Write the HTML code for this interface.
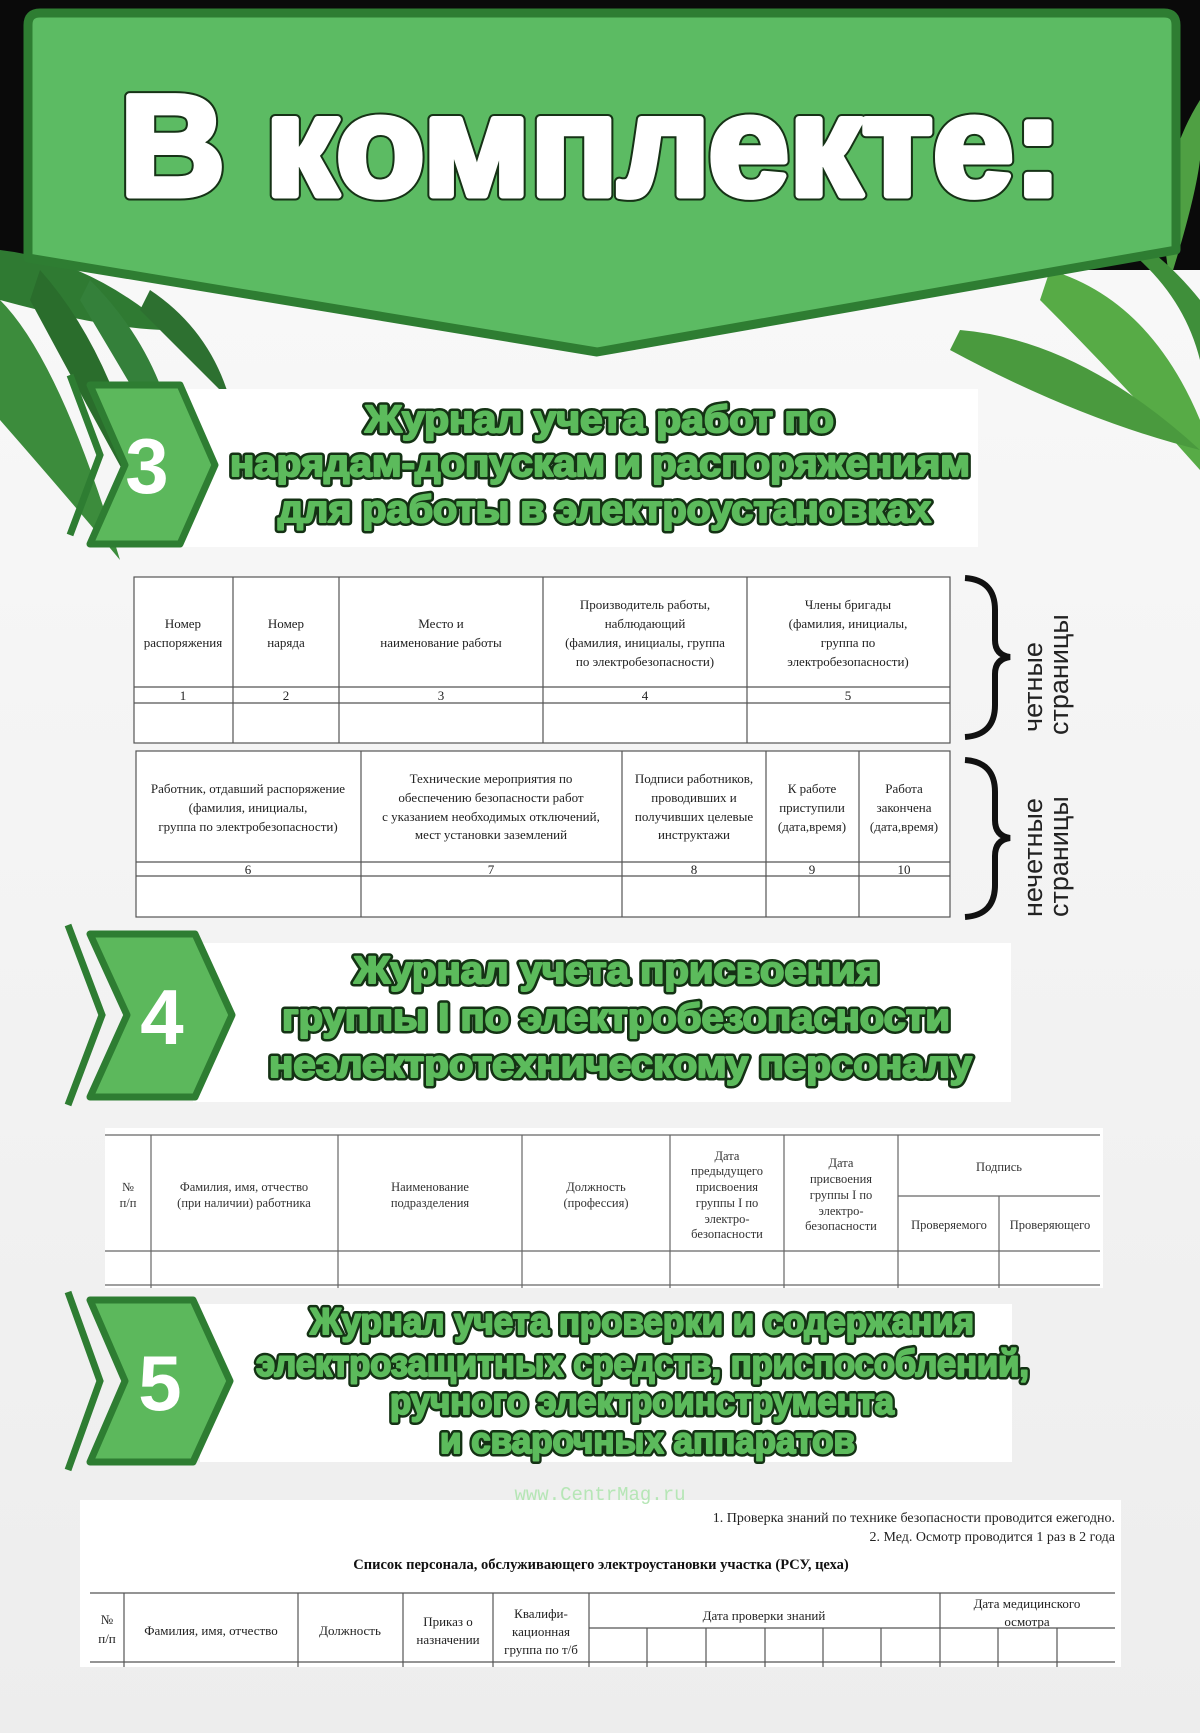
<!DOCTYPE html>
<html><head><meta charset="utf-8"><style>
html,body{margin:0;padding:0;background:#f3f3f3;}
svg{display:block}
.ho{font-family:"Liberation Sans",sans-serif;font-weight:bold;fill:#143214;stroke:#143214;stroke-width:7;stroke-linejoin:round}
.h{font-family:"Liberation Sans",sans-serif;font-weight:bold;fill:#5cbb5c;stroke:#5cbb5c;stroke-width:2;stroke-linejoin:round}
.t{font-family:"Liberation Serif",serif;font-size:13px;fill:#222;text-anchor:middle}
.s{font-family:"Liberation Serif",serif;font-size:12.5px;fill:#333;text-anchor:middle}
.n{font-family:"Liberation Sans",sans-serif;font-weight:bold;fill:#fff;text-anchor:middle}
.v{font-family:"Liberation Sans",sans-serif;font-size:27px;fill:#222}
</style></head><body>
<svg width="1200" height="1733" viewBox="0 0 1200 1733" xmlns="http://www.w3.org/2000/svg">
<defs>
<linearGradient id="bg" x1="0" y1="0" x2="0" y2="1"><stop offset="0" stop-color="#fafafa"/><stop offset="1" stop-color="#ededed"/></linearGradient>
</defs>
<rect width="1200" height="1733" fill="url(#bg)"/>
<rect x="0" y="0" width="1200" height="270" fill="#0a0a0a"/>
<g fill="#2f7a32">
<path d="M0 250 Q90 260 170 330 Q110 330 0 300Z"/>
<path d="M0 300 Q60 360 120 560 Q70 500 0 420Z" fill="#3c8c3c"/>
<path d="M40 270 Q120 360 150 520 Q100 430 30 300Z" fill="#2a6d2c"/>
<path d="M90 280 Q170 360 180 470 Q140 400 80 300Z" fill="#34803a"/>
<path d="M150 290 Q210 330 230 400 Q190 360 140 310Z" fill="#2d7030"/>
</g>
<g fill="#4fa043">
<path d="M1200 100 Q1150 180 1170 280 Q1195 200 1200 160Z"/>
<path d="M1050 270 Q1150 300 1200 420 L1200 470 Q1120 380 1040 300Z" fill="#57ab46"/>
<path d="M960 330 Q1080 340 1200 450 Q1080 420 950 350Z" fill="#4a9a3e"/>
<path d="M1100 230 Q1180 280 1200 360 L1200 300 Q1160 250 1110 225Z" fill="#3f8f3a"/>
</g>
<path d="M40 13 H1164 Q1176 13 1176 25 V250 L597 352 L28 258 V25 Q28 13 40 13Z" fill="#5cbb63" stroke="#2e7d32" stroke-width="9" stroke-linejoin="round"/>
<text x="120" y="195" font-family="Liberation Sans,sans-serif" font-weight="bold" font-size="143" fill="#163216" stroke="#163216" stroke-width="11" stroke-linejoin="round" textLength="942" lengthAdjust="spacingAndGlyphs">В комплекте:</text>
<text x="120" y="195" font-family="Liberation Sans,sans-serif" font-weight="bold" font-size="143" fill="#fff" stroke="#fff" stroke-width="7" stroke-linejoin="round" textLength="942" lengthAdjust="spacingAndGlyphs">В комплекте:</text>

<!-- section 3 -->
<rect x="177" y="389" width="801" height="158" fill="#fff"/>
<path d="M70 375 L100 455 L70 535" fill="none" stroke="#2e7d32" stroke-width="7"/>
<path d="M90 385 L180 385 L215 465 L180 544 L90 544 L125 465Z" fill="#5cb85c" stroke="#2e7d32" stroke-width="7" stroke-linejoin="round"/>
<text class="n" x="147" y="493" font-size="78">3</text>
<g>
<text class="ho" x="365" y="432" font-size="38" textLength="469" lengthAdjust="spacingAndGlyphs">Журнал учета работ по</text>
<text class="ho" x="230" y="476" font-size="38" textLength="740" lengthAdjust="spacingAndGlyphs">нарядам-допускам и распоряжениям</text>
<text class="ho" x="278" y="522" font-size="38" textLength="653" lengthAdjust="spacingAndGlyphs">для работы в электроустановках</text>
<text class="h" x="365" y="432" font-size="38" textLength="469" lengthAdjust="spacingAndGlyphs">Журнал учета работ по</text>
<text class="h" x="230" y="476" font-size="38" textLength="740" lengthAdjust="spacingAndGlyphs">нарядам-допускам и распоряжениям</text>
<text class="h" x="278" y="522" font-size="38" textLength="653" lengthAdjust="spacingAndGlyphs">для работы в электроустановках</text>
</g>

<rect x="134" y="577" width="816" height="166" fill="#fff"/>
<g stroke="#555" stroke-width="1.2" fill="none">
<rect x="134" y="577" width="816" height="166"/>
<line x1="134" y1="687" x2="950" y2="687"/><line x1="134" y1="703" x2="950" y2="703"/>
<line x1="233" y1="577" x2="233" y2="743"/><line x1="339" y1="577" x2="339" y2="743"/>
<line x1="543" y1="577" x2="543" y2="743"/><line x1="747" y1="577" x2="747" y2="743"/>
</g>
<text class="t" x="183" y="628">Номер</text><text class="t" x="183" y="647">распоряжения</text>
<text class="t" x="286" y="628">Номер</text><text class="t" x="286" y="647">наряда</text>
<text class="t" x="441" y="628">Место и</text><text class="t" x="441" y="647">наименование работы</text>
<text class="t" x="645" y="609">Производитель работы,</text><text class="t" x="645" y="628">наблюдающий</text><text class="t" x="645" y="647">(фамилия, инициалы, группа</text><text class="t" x="645" y="666">по электробезопасности)</text>
<text class="t" x="848" y="609">Члены бригады</text><text class="t" x="848" y="628">(фамилия, инициалы,</text><text class="t" x="848" y="647">группа по</text><text class="t" x="848" y="666">электробезопасности)</text>
<text class="t" x="183" y="700">1</text><text class="t" x="286" y="700">2</text><text class="t" x="441" y="700">3</text><text class="t" x="645" y="700">4</text><text class="t" x="848" y="700">5</text>
<path d="M965 578 Q995 580 995 610 L995 640 Q995 655 1010 657 Q995 659 995 674 L995 705 Q995 735 965 737" fill="none" stroke="#111" stroke-width="6"/>
<text class="v" transform="translate(1042 732) rotate(-90)">четные</text>
<text class="v" transform="translate(1068 735) rotate(-90)">страницы</text>

<rect x="136" y="751" width="814" height="166" fill="#fff"/>
<g stroke="#555" stroke-width="1.2" fill="none">
<rect x="136" y="751" width="814" height="166"/>
<line x1="136" y1="862" x2="950" y2="862"/><line x1="136" y1="876" x2="950" y2="876"/>
<line x1="361" y1="751" x2="361" y2="917"/><line x1="622" y1="751" x2="622" y2="917"/>
<line x1="766" y1="751" x2="766" y2="917"/><line x1="859" y1="751" x2="859" y2="917"/>
</g>
<text class="t" x="248" y="793">Работник, отдавший распоряжение</text><text class="t" x="248" y="812">(фамилия, инициалы,</text><text class="t" x="248" y="831">группа по электробезопасности)</text>
<text class="t" x="491" y="783">Технические мероприятия по</text><text class="t" x="491" y="802">обеспечению безопасности работ</text><text class="t" x="491" y="821">с указанием необходимых отключений,</text><text class="t" x="491" y="839">мест установки заземлений</text>
<text class="t" x="694" y="783">Подписи работников,</text><text class="t" x="694" y="802">проводивших и</text><text class="t" x="694" y="821">получивших целевые</text><text class="t" x="694" y="839">инструктажи</text>
<text class="t" x="812" y="793">К работе</text><text class="t" x="812" y="812">приступили</text><text class="t" x="812" y="831">(дата,время)</text>
<text class="t" x="904" y="793">Работа</text><text class="t" x="904" y="812">закончена</text><text class="t" x="904" y="831">(дата,время)</text>
<text class="t" x="248" y="874">6</text><text class="t" x="491" y="874">7</text><text class="t" x="694" y="874">8</text><text class="t" x="812" y="874">9</text><text class="t" x="904" y="874">10</text>
<path d="M965 760 Q995 762 995 792 L995 820 Q995 836 1010 838 Q995 840 995 856 L995 885 Q995 915 965 917" fill="none" stroke="#111" stroke-width="6"/>
<text class="v" transform="translate(1042 917) rotate(-90)">нечетные</text>
<text class="v" transform="translate(1068 917) rotate(-90)">страницы</text>

<!-- section 4 -->
<rect x="193" y="943" width="818" height="159" fill="#fff"/>
<path d="M68 925 L102 1015 L68 1105" fill="none" stroke="#2e7d32" stroke-width="7"/>
<path d="M90 934 L195 934 L232 1015 L195 1097 L90 1097 L127 1015Z" fill="#5cb85c" stroke="#2e7d32" stroke-width="7" stroke-linejoin="round"/>
<text class="n" x="162" y="1044" font-size="78">4</text>
<text class="ho" x="354" y="983" font-size="38" textLength="525" lengthAdjust="spacingAndGlyphs">Журнал учета присвоения</text>
<text class="ho" x="282" y="1030" font-size="38" textLength="668" lengthAdjust="spacingAndGlyphs">группы I по электробезопасности</text>
<text class="ho" x="269" y="1077" font-size="38" textLength="703" lengthAdjust="spacingAndGlyphs">неэлектротехническому персоналу</text>
<text class="h" x="354" y="983" font-size="38" textLength="525" lengthAdjust="spacingAndGlyphs">Журнал учета присвоения</text>
<text class="h" x="282" y="1030" font-size="38" textLength="668" lengthAdjust="spacingAndGlyphs">группы I по электробезопасности</text>
<text class="h" x="269" y="1077" font-size="38" textLength="703" lengthAdjust="spacingAndGlyphs">неэлектротехническому персоналу</text>

<rect x="105" y="1128" width="998" height="160" fill="#fff"/>
<g stroke="#666" stroke-width="1.2" fill="none">
<line x1="105" y1="1135" x2="1100" y2="1135"/><line x1="105" y1="1251" x2="1100" y2="1251"/><line x1="105" y1="1285" x2="1100" y2="1285"/>
<line x1="898" y1="1196" x2="1100" y2="1196"/>
<line x1="151" y1="1135" x2="151" y2="1288"/><line x1="338" y1="1135" x2="338" y2="1288"/><line x1="522" y1="1135" x2="522" y2="1288"/>
<line x1="670" y1="1135" x2="670" y2="1288"/><line x1="784" y1="1135" x2="784" y2="1288"/><line x1="898" y1="1135" x2="898" y2="1288"/>
<line x1="999" y1="1196" x2="999" y2="1288"/>
</g>
<text class="s" x="128" y="1191">№</text><text class="s" x="128" y="1207">п/п</text>
<text class="s" x="244" y="1191">Фамилия, имя, отчество</text><text class="s" x="244" y="1207">(при наличии) работника</text>
<text class="s" x="430" y="1191">Наименование</text><text class="s" x="430" y="1207">подразделения</text>
<text class="s" x="596" y="1191">Должность</text><text class="s" x="596" y="1207">(профессия)</text>
<text class="s" x="727" y="1160">Дата</text><text class="s" x="727" y="1175">предыдущего</text><text class="s" x="727" y="1191">присвоения</text><text class="s" x="727" y="1207">группы I по</text><text class="s" x="727" y="1223">электро-</text><text class="s" x="727" y="1238">безопасности</text>
<text class="s" x="841" y="1167">Дата</text><text class="s" x="841" y="1183">присвоения</text><text class="s" x="841" y="1199">группы I по</text><text class="s" x="841" y="1215">электро-</text><text class="s" x="841" y="1230">безопасности</text>
<text class="s" x="999" y="1171">Подпись</text>
<text class="s" x="949" y="1229">Проверяемого</text><text class="s" x="1050" y="1229">Проверяющего</text>

<!-- section 5 -->
<rect x="200" y="1304" width="812" height="158" fill="#fff"/>
<path d="M68 1292 L100 1381 L68 1470" fill="none" stroke="#2e7d32" stroke-width="7"/>
<path d="M90 1300 L193 1300 L230 1381 L193 1462 L90 1462 L125 1381Z" fill="#5cb85c" stroke="#2e7d32" stroke-width="7" stroke-linejoin="round"/>
<text class="n" x="160" y="1410" font-size="78">5</text>
<text class="ho" x="310" y="1334" font-size="37" textLength="664" lengthAdjust="spacingAndGlyphs">Журнал учета проверки и содержания</text>
<text class="ho" x="256" y="1376" font-size="37" textLength="773" lengthAdjust="spacingAndGlyphs">электрозащитных средств, приспособлений,</text>
<text class="ho" x="390" y="1414" font-size="37" textLength="504" lengthAdjust="spacingAndGlyphs">ручного электроинструмента</text>
<text class="ho" x="440" y="1453" font-size="37" textLength="415" lengthAdjust="spacingAndGlyphs">и сварочных аппаратов</text>
<text class="h" x="310" y="1334" font-size="37" textLength="664" lengthAdjust="spacingAndGlyphs">Журнал учета проверки и содержания</text>
<text class="h" x="256" y="1376" font-size="37" textLength="773" lengthAdjust="spacingAndGlyphs">электрозащитных средств, приспособлений,</text>
<text class="h" x="390" y="1414" font-size="37" textLength="504" lengthAdjust="spacingAndGlyphs">ручного электроинструмента</text>
<text class="h" x="440" y="1453" font-size="37" textLength="415" lengthAdjust="spacingAndGlyphs">и сварочных аппаратов</text>

<rect x="80" y="1500" width="1041" height="167" fill="#fff"/>
<text x="600" y="1500" font-family="Liberation Mono,monospace" font-size="19" fill="#b6e6b6" text-anchor="middle">www.CentrMag.ru</text>
<text x="1115" y="1522" font-family="Liberation Serif,serif" font-size="14" fill="#222" text-anchor="end">1. Проверка знаний по технике безопасности проводится ежегодно.</text>
<text x="1115" y="1541" font-family="Liberation Serif,serif" font-size="14" fill="#222" text-anchor="end">2. Мед. Осмотр проводится 1 раз в 2 года</text>
<text x="601" y="1569" font-family="Liberation Serif,serif" font-size="14.5" font-weight="bold" fill="#111" text-anchor="middle">Список персонала, обслуживающего электроустановки участка (РСУ, цеха)</text>
<g stroke="#555" stroke-width="1.2" fill="none">
<line x1="90" y1="1593" x2="1115" y2="1593"/><line x1="90" y1="1662" x2="1115" y2="1662"/>
<line x1="589" y1="1628" x2="1115" y2="1628"/>
<line x1="124" y1="1593" x2="124" y2="1667"/><line x1="298" y1="1593" x2="298" y2="1667"/><line x1="403" y1="1593" x2="403" y2="1667"/>
<line x1="493" y1="1593" x2="493" y2="1667"/><line x1="589" y1="1593" x2="589" y2="1667"/><line x1="940" y1="1593" x2="940" y2="1667"/>
<line x1="647" y1="1628" x2="647" y2="1667"/><line x1="706" y1="1628" x2="706" y2="1667"/><line x1="765" y1="1628" x2="765" y2="1667"/>
<line x1="823" y1="1628" x2="823" y2="1667"/><line x1="881" y1="1628" x2="881" y2="1667"/><line x1="998" y1="1628" x2="998" y2="1667"/><line x1="1057" y1="1628" x2="1057" y2="1667"/>
</g>
<text class="t" x="107" y="1624">№</text><text class="t" x="107" y="1643">п/п</text>
<text class="t" x="211" y="1635">Фамилия, имя, отчество</text>
<text class="t" x="350" y="1635">Должность</text>
<text class="t" x="448" y="1626">Приказ о</text><text class="t" x="448" y="1644">назначении</text>
<text class="t" x="541" y="1618">Квалифи-</text><text class="t" x="541" y="1636">кационная</text><text class="t" x="541" y="1654">группа по т/б</text>
<text class="t" x="764" y="1620">Дата проверки знаний</text>
<text class="t" x="1027" y="1608">Дата медицинского</text><text class="t" x="1027" y="1626">осмотра</text>
</svg>
</body></html>
